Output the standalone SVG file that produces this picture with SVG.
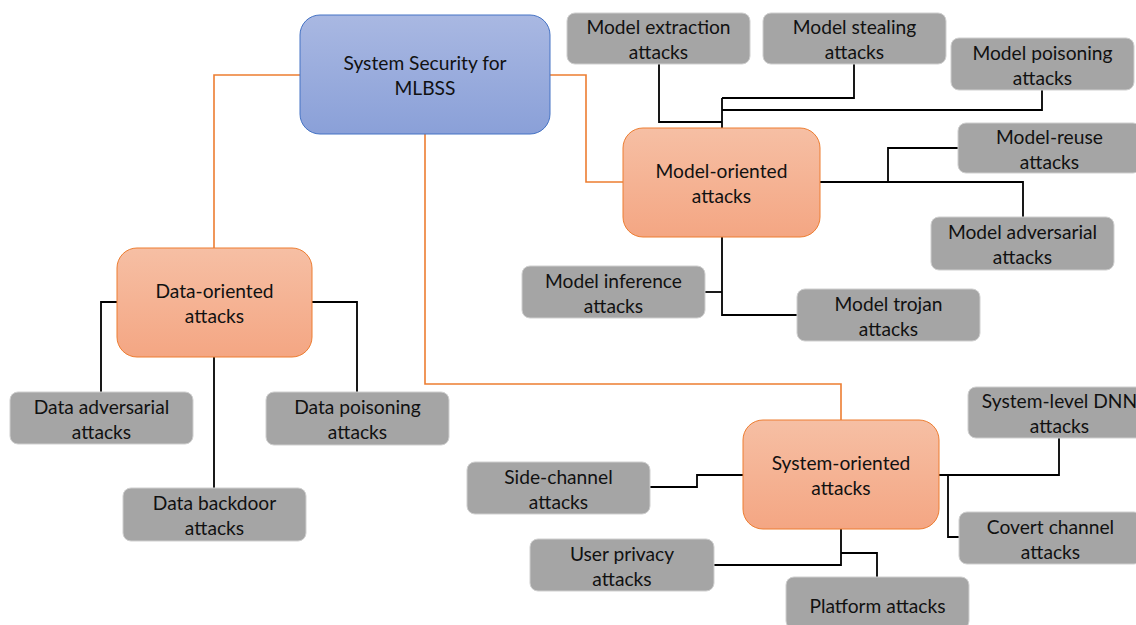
<svg xmlns="http://www.w3.org/2000/svg" width="1136" height="625" viewBox="0 0 1136 625">
<defs>
<linearGradient id="gBlue" x1="0" y1="0" x2="0" y2="1"><stop offset="0" stop-color="#a9b8e2"/><stop offset="1" stop-color="#8aa0d8"/></linearGradient>
<linearGradient id="gOr" x1="0" y1="0" x2="0" y2="1"><stop offset="0" stop-color="#f6bfa4"/><stop offset="1" stop-color="#f4a683"/></linearGradient>
<style>
.t{font-family:Lato,"Liberation Sans",sans-serif;font-size:19.2px;fill:#111;text-anchor:middle}
.g{fill:#a5a5a5;stroke:#cfcfcf;stroke-width:1}
.o{fill:url(#gOr);stroke:#ed7d31;stroke-width:1}
.b{fill:url(#gBlue);stroke:#4472c4;stroke-width:1}
.co{fill:none;stroke:#ed7d31;stroke-width:1.6}
.cb{fill:none;stroke:#000;stroke-width:1.8}
</style>
</defs>
<rect width="1136" height="625" fill="#fff"/>
<g id="connectors">
<polyline class="co" points="300,75 214,75 214,248"/>
<polyline class="co" points="550,75 586,75 586,182 623,182"/>
<polyline class="co" points="425,134 425,384 841,384 841,420"/>
<polyline class="cb" points="117,302 101,302 101,392"/>
<polyline class="cb" points="312,302 357,302 357,392"/>
<polyline class="cb" points="214,357 214,488"/>
<polyline class="cb" points="659,64 659,122 722,122"/>
<polyline class="cb" points="854,64 854,98 722,98"/>
<polyline class="cb" points="1042,90 1042,110 722,110"/>
<polyline class="cb" points="722,98 722,128"/>
<polyline class="cb" points="820,182 1023,182 1023,217"/>
<polyline class="cb" points="888,182 888,148 958,148"/>
<polyline class="cb" points="722,237 722,315 797,315"/>
<polyline class="cb" points="705,292 722,292"/>
<polyline class="cb" points="650,487 697,487 697,475 743,475"/>
<polyline class="cb" points="938,475 1059,475 1059,438"/>
<polyline class="cb" points="948,475 948,537 959,537"/>
<polyline class="cb" points="841,529 841,565 714,565"/>
<polyline class="cb" points="841,553 877,553 877,577"/>
</g>
<g id="root"><rect class="b" x="300" y="15" width="250" height="119" rx="20"/><text class="t" x="425" y="70">System Security for</text><text class="t" x="425" y="95">MLBSS</text></g>
<g id="data-oriented"><rect class="o" x="117" y="248" width="195" height="109" rx="20"/><text class="t" x="214.5" y="298">Data-oriented</text><text class="t" x="214.5" y="323">attacks</text></g>
<g id="model-oriented"><rect class="o" x="623" y="128" width="197" height="109" rx="20"/><text class="t" x="721.5" y="178">Model-oriented</text><text class="t" x="721.5" y="203">attacks</text></g>
<g id="system-oriented"><rect class="o" x="743" y="420" width="196" height="109" rx="20"/><text class="t" x="841" y="470">System-oriented</text><text class="t" x="841" y="495">attacks</text></g>
<g id="data-adversarial"><rect class="g" x="10" y="392" width="183" height="52" rx="8"/><text class="t" x="101.5" y="413.5">Data adversarial</text><text class="t" x="101.5" y="438.5">attacks</text></g>
<g id="data-poisoning"><rect class="g" x="266" y="392" width="183" height="53" rx="8"/><text class="t" x="357.5" y="413.5">Data poisoning</text><text class="t" x="357.5" y="438.5">attacks</text></g>
<g id="data-backdoor"><rect class="g" x="123" y="488" width="183" height="53" rx="8"/><text class="t" x="214.5" y="509.5">Data backdoor</text><text class="t" x="214.5" y="534.5">attacks</text></g>
<g id="model-extraction"><rect class="g" x="567" y="13" width="183" height="51" rx="8"/><text class="t" x="658.5" y="34">Model extraction</text><text class="t" x="658.5" y="59">attacks</text></g>
<g id="model-stealing"><rect class="g" x="763" y="13" width="183" height="51" rx="8"/><text class="t" x="854.5" y="34">Model stealing</text><text class="t" x="854.5" y="59">attacks</text></g>
<g id="model-poisoning"><rect class="g" x="951" y="38" width="183" height="52" rx="8"/><text class="t" x="1042.5" y="59.5">Model poisoning</text><text class="t" x="1042.5" y="84.5">attacks</text></g>
<g id="model-reuse"><rect class="g" x="958" y="123" width="183" height="50" rx="8"/><text class="t" x="1049.5" y="143.5">Model-reuse</text><text class="t" x="1049.5" y="168.5">attacks</text></g>
<g id="model-adversarial"><rect class="g" x="931" y="217" width="183" height="53" rx="8"/><text class="t" x="1022.5" y="239">Model adversarial</text><text class="t" x="1022.5" y="264">attacks</text></g>
<g id="model-inference"><rect class="g" x="522" y="266" width="183" height="52" rx="8"/><text class="t" x="613.5" y="287.5">Model inference</text><text class="t" x="613.5" y="312.5">attacks</text></g>
<g id="model-trojan"><rect class="g" x="797" y="289" width="183" height="52" rx="8"/><text class="t" x="888.5" y="310.5">Model trojan</text><text class="t" x="888.5" y="335.5">attacks</text></g>
<g id="side-channel"><rect class="g" x="467" y="462" width="183" height="52" rx="8"/><text class="t" x="558.5" y="483.5">Side-channel</text><text class="t" x="558.5" y="508.5">attacks</text></g>
<g id="system-level-dnn"><rect class="g" x="968" y="387" width="183" height="51" rx="8"/><text class="t" x="1059.5" y="408">System-level DNN</text><text class="t" x="1059.5" y="433">attacks</text></g>
<g id="covert-channel"><rect class="g" x="959" y="512" width="183" height="52" rx="8"/><text class="t" x="1050.5" y="533.5">Covert channel</text><text class="t" x="1050.5" y="558.5">attacks</text></g>
<g id="user-privacy"><rect class="g" x="530" y="539" width="184" height="52" rx="8"/><text class="t" x="622" y="560.5">User privacy</text><text class="t" x="622" y="585.5">attacks</text></g>
<g id="platform"><rect class="g" x="786" y="577" width="183" height="52" rx="8"/><text class="t" x="877.5" y="613">Platform attacks</text></g>
</svg>
